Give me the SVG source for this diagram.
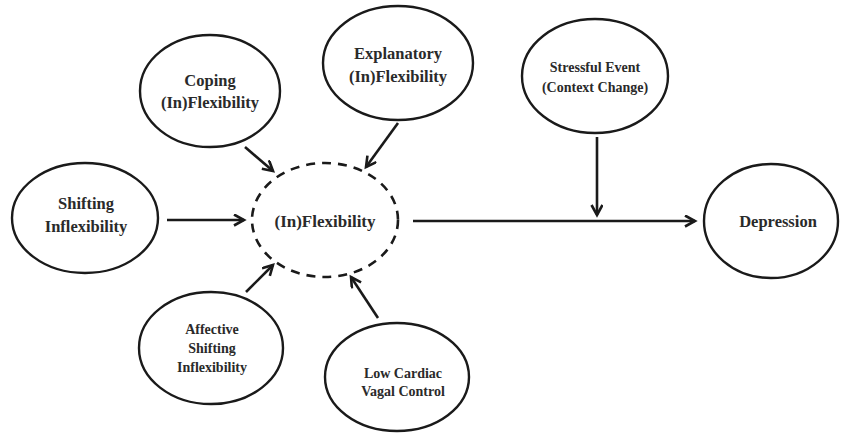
<svg xmlns="http://www.w3.org/2000/svg" width="842" height="434" viewBox="0 0 842 434">
<defs>
<style>
.node{fill:#fff;stroke:#1a1a1a;stroke-width:2.4}
.dash{fill:none;stroke:#1a1a1a;stroke-width:2.6;stroke-dasharray:9 7}
.lbl{font-family:"Liberation Serif","Times New Roman",serif;font-weight:bold;fill:#2a2a2a;text-anchor:middle}
.edge{stroke:#1a1a1a;stroke-width:2.6;fill:none}
</style>
<marker id="ah" markerUnits="userSpaceOnUse" markerWidth="14" markerHeight="14" refX="11" refY="6" orient="auto">
<path d="M1,0.5 L11,6 L1,11.5" fill="none" stroke="#1a1a1a" stroke-width="2.6"/>
</marker>
</defs>
<rect width="842" height="434" fill="#fff"/>
<g id="connectors">
<line class="edge" x1="167" y1="220" x2="244" y2="220" marker-end="url(#ah)"/>
<line class="edge" x1="245" y1="147" x2="273" y2="171" marker-end="url(#ah)"/>
<line class="edge" x1="398" y1="123" x2="366" y2="167" marker-end="url(#ah)"/>
<line class="edge" x1="246" y1="292" x2="273" y2="265" marker-end="url(#ah)"/>
<line class="edge" x1="378" y1="318" x2="351" y2="277" marker-end="url(#ah)"/>
<line class="edge" x1="413" y1="221" x2="695" y2="221" marker-end="url(#ah)"/>
<line class="edge" x1="597" y1="137" x2="597" y2="215" marker-end="url(#ah)"/>
</g>
<g id="shifting">
<ellipse class="node" cx="85" cy="218" rx="73" ry="55"/>
<text class="lbl" x="86" y="209" font-size="16.5">Shifting</text>
<text class="lbl" x="86" y="232" font-size="16.5">Inflexibility</text>
</g>
<g id="coping">
<ellipse class="node" cx="210" cy="91" rx="70" ry="56"/>
<text class="lbl" x="210" y="86" font-size="16.5">Coping</text>
<text class="lbl" x="210" y="108" font-size="16.5">(In)Flexibility</text>
</g>
<g id="explanatory">
<ellipse class="node" cx="398" cy="63" rx="75" ry="57"/>
<text class="lbl" x="398" y="59" font-size="16.5">Explanatory</text>
<text class="lbl" x="398" y="82" font-size="16.5">(In)Flexibility</text>
</g>
<g id="flexibility">
<ellipse class="dash" cx="325" cy="220" rx="73" ry="57"/>
<text class="lbl" x="325" y="227" font-size="17">(In)Flexibility</text>
</g>
<g id="affective">
<ellipse class="node" cx="211" cy="348" rx="72" ry="56"/>
<text class="lbl" x="212" y="334" font-size="14">Affective</text>
<text class="lbl" x="212" y="353" font-size="14">Shifting</text>
<text class="lbl" x="212" y="372" font-size="14">Inflexibility</text>
</g>
<g id="vagal">
<ellipse class="node" cx="397" cy="377" rx="72" ry="54"/>
<text class="lbl" x="403" y="378" font-size="14">Low Cardiac</text>
<text class="lbl" x="403" y="396" font-size="14">Vagal Control</text>
</g>
<g id="stressful">
<ellipse class="node" cx="595" cy="76" rx="73" ry="57"/>
<text class="lbl" x="595" y="72" font-size="14">Stressful Event</text>
<text class="lbl" x="595" y="92" font-size="14">(Context Change)</text>
</g>
<g id="depression">
<ellipse class="node" cx="771" cy="221" rx="67" ry="57"/>
<text class="lbl" x="778" y="227" font-size="16.5">Depression</text>
</g>
</svg>
